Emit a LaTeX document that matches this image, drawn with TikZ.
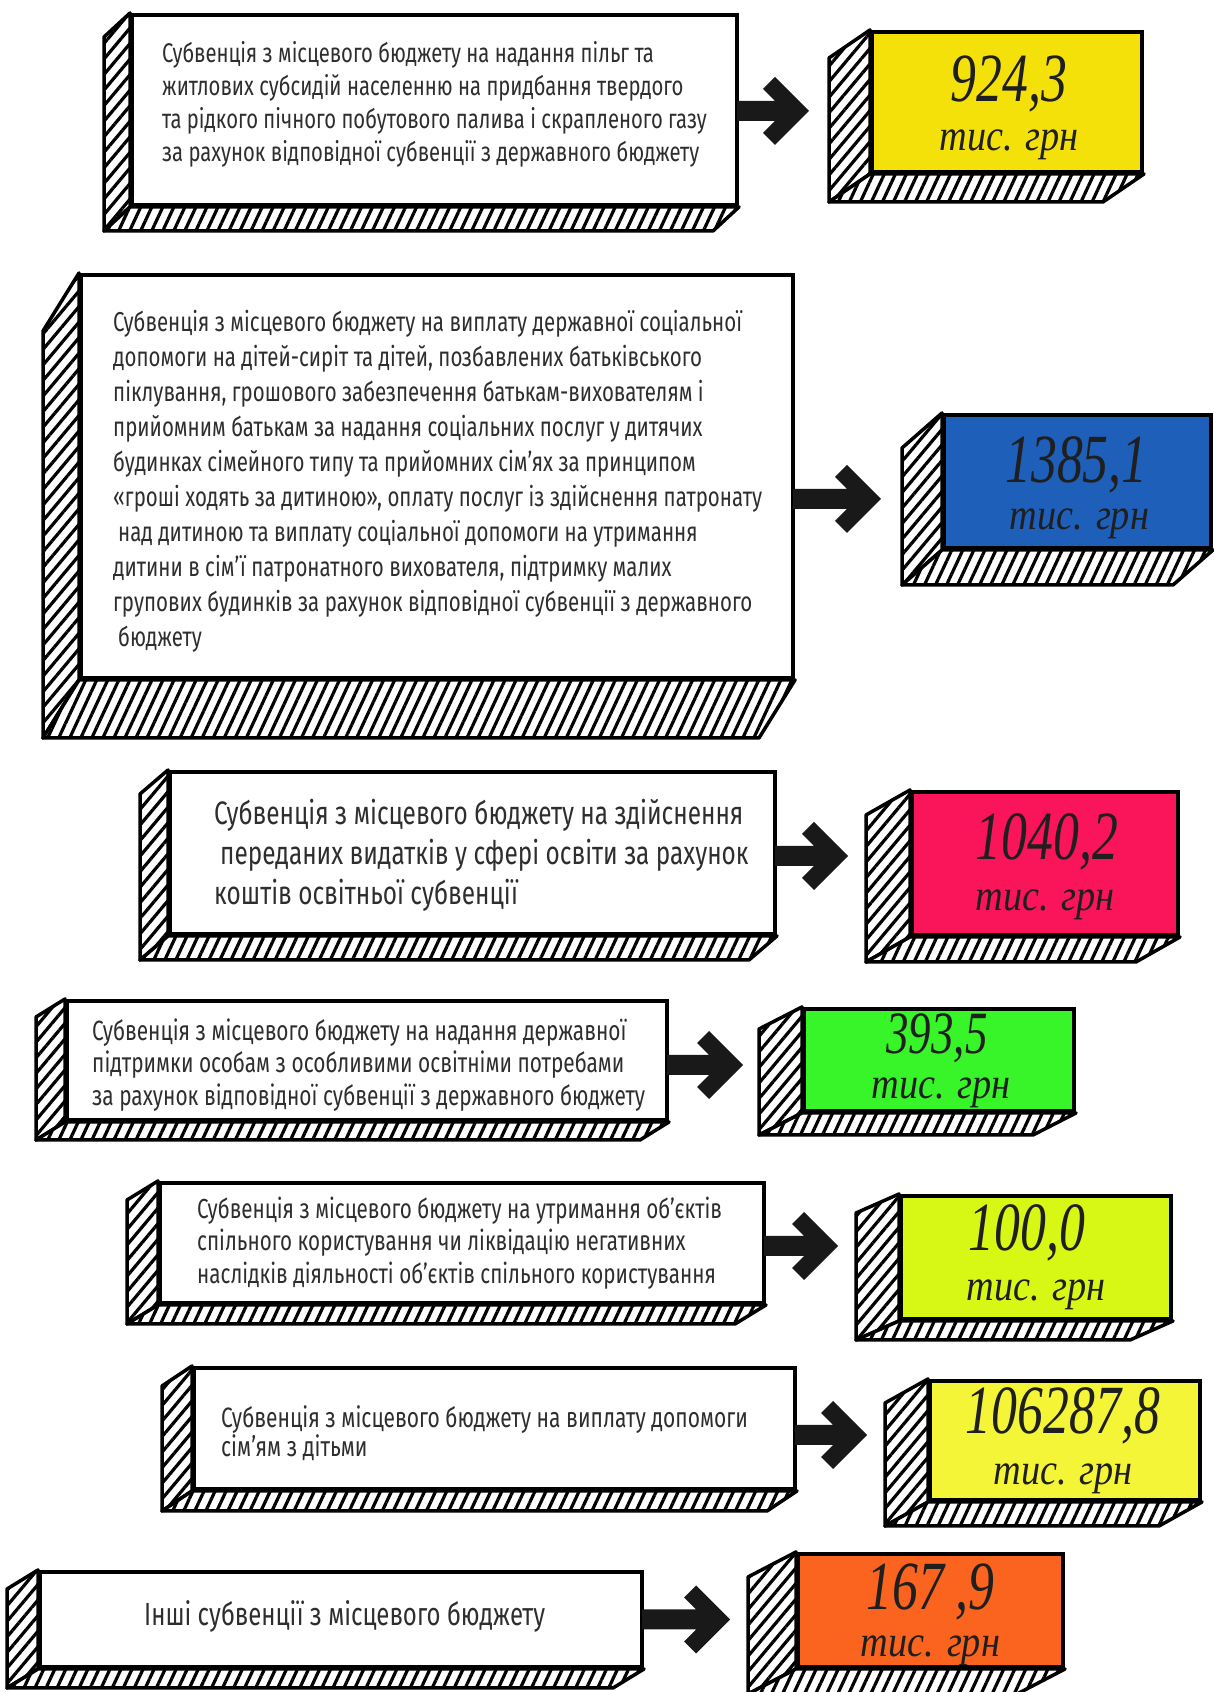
\documentclass[tikz,border=0pt]{standalone}
\usepackage{fontspec}
\setmainfont{Fira Sans}[FakeStretch=0.75]
\newfontfamily\numfam{Liberation Serif}[FakeStretch=0.75]
\newfontfamily\unitfam{Liberation Serif}[FakeStretch=0.87]
\usetikzlibrary{calc,patterns.meta}

\definecolor{valyellow}{RGB}{245,225,10}
\definecolor{valblue}{RGB}{30,95,185}
\definecolor{valpink}{RGB}{250,20,90}
\definecolor{valgreen}{RGB}{55,245,40}
\definecolor{vallime}{RGB}{215,248,20}
\definecolor{vallemon}{RGB}{245,245,55}
\definecolor{valorange}{RGB}{250,100,30}

\newcommand{\numf}{\numfam\itshape\fontsize{69}{69}\selectfont}
\newcommand{\unitf}{\unitfam\itshape\fontsize{44}{44}\selectfont}

\tikzset{
  tbox/.style={draw, line width=4pt, fill=white, inner sep=0pt},
  vbox/.style={draw, line width=4pt, inner sep=0pt},
  txt/.style={anchor=west, align=left, inner sep=0pt, text=black!82},
  numtxt/.style={inner sep=0pt, text=black!88, font=\numf},
  unittxt/.style={inner sep=0pt, text=black!88, font=\unitf},
  sidehatch/.style={draw, line width=3.5pt, line join=round, preaction={fill=white},
    pattern={Lines[angle=50,distance=10pt,line width=3.2pt]}},
  bottomhatch/.style={draw, line width=3.5pt, line join=round, preaction={fill=white},
    pattern={Lines[angle=65,distance=10pt,line width=3.2pt]}},
  arrowfill/.style={fill=black!90}
}

\newcommand{\extrude}[3]{%
  \path[sidehatch] (#1.north west) -- ++(-#2,-#3) -- ($(#1.south west)+(-#2,-#3)$) -- (#1.south west) -- cycle;
  \path[bottomhatch] (#1.south west) -- ($(#1.south west)+(-#2,-#3)$) -- ($(#1.south east)+(-#2,-#3)$) -- (#1.south east) -- cycle;
}

\newcommand{\flowarrow}[4]{%
  \fill[arrowfill] let \p1=([yshift=#4pt]#1.east), \p2=(#2.west) in
    (\x1-2pt,\y1+10pt) -- (\x2-#3pt-34pt,\y1+10pt) -- (\x2-#3pt-46pt,\y1+22pt)
    -- (\x2-#3pt-34pt,\y1+34pt) -- (\x2-#3pt,\y1) -- (\x2-#3pt-34pt,\y1-34pt)
    -- (\x2-#3pt-46pt,\y1-22pt) -- (\x2-#3pt-34pt,\y1-10pt) -- (\x1-2pt,\y1-10pt) -- cycle;
}

\begin{document}
\begin{tikzpicture}[x=1pt,y=1pt]
\useasboundingbox (0,0) rectangle (1214,1692);

\node(t1) at (434.5,1582)[tbox, minimum width=605pt, minimum height=190pt] {};
\node(v1) at (1007,1590)[vbox, fill=valyellow, minimum width=270pt, minimum height=140pt] {};
\node(t2) at (437,1215.5)[tbox, minimum width=712pt, minimum height=403pt] {};
\node(v2) at (1077.5,1210.5)[vbox, fill=valblue, minimum width=267pt, minimum height=133pt] {};
\node(t3) at (472.5,839)[tbox, minimum width=605pt, minimum height=162pt] {};
\node(v3) at (1045,828.5)[vbox, fill=valpink, minimum width=266pt, minimum height=143pt] {};
\node(t4) at (367,631.5)[tbox, minimum width=600pt, minimum height=119pt] {};
\node(v4) at (939,632)[vbox, fill=valgreen, minimum width=270pt, minimum height=102pt] {};
\node(t5) at (462,449)[tbox, minimum width=604pt, minimum height=120pt] {};
\node(v5) at (1036,434.5)[vbox, fill=vallime, minimum width=270pt, minimum height=123pt] {};
\node(t6) at (494.5,263.5)[tbox, minimum width=601pt, minimum height=121pt] {};
\node(v6) at (1065,251.5)[vbox, fill=vallemon, minimum width=270pt, minimum height=119pt] {};
\node(t7) at (341,72.5)[tbox, minimum width=602pt, minimum height=95pt] {};
\node(v7) at (930.5,81.5)[vbox, fill=valorange, minimum width=265pt, minimum height=113pt] {};

\extrude{t1}{26}{24}
\extrude{v1}{41}{28}
\extrude{t2}{36}{58}
\extrude{v2}{40}{35}
\extrude{t3}{28}{24}
\extrude{v3}{44}{25}
\extrude{t4}{29}{18}
\extrude{v4}{43}{22}
\extrude{t5}{31}{19}
\extrude{v5}{43}{19}
\extrude{t6}{30}{20}
\extrude{v6}{43}{24}
\extrude{t7}{31}{19}
\extrude{v7}{48}{25}

\node(n1) at ([xshift=2pt,yshift=18pt]v1.center)[numtxt] {924,3};
\node(u1) at ([xshift=2pt,yshift=-43pt]v1.center)[unittxt] {тис. грн};
\node(n2) at ([xshift=-1pt,yshift=17pt]v2.center)[numtxt] {1385,1};
\node(u2) at ([xshift=2pt,yshift=-42pt]v2.center)[unittxt] {тис. грн};
\node(n3) at ([xshift=2pt,yshift=22pt]v3.center)[numtxt] {1040,2};
\node(u3) at ([xshift=0pt,yshift=-41pt]v3.center)[unittxt] {тис. грн};
\node(n4) at ([xshift=-2pt,yshift=22pt]v4.center)[numtxt, font=\numfam\itshape\fontsize{60}{60}\selectfont] {393,5};
\node(u4) at ([xshift=2pt,yshift=-33pt]v4.center)[unittxt] {тис. грн};
\node(n5) at ([xshift=-9pt,yshift=25pt]v5.center)[numtxt] {100,0};
\node(u5) at ([xshift=0pt,yshift=-37pt]v5.center)[unittxt] {тис. грн};
\node(n6) at ([xshift=-2pt,yshift=25pt]v6.center)[numtxt] {106287,8};
\node(u6) at ([xshift=-2pt,yshift=-38pt]v6.center)[unittxt] {тис. грн};
\node(n7) at ([xshift=0pt,yshift=19pt]v7.center)[numtxt] {167\,,9};
\node(u7) at ([xshift=0pt,yshift=-40pt]v7.center)[unittxt] {тис. грн};

\node(l1) at ([xshift=32pt,yshift=6pt]t1.west)[txt, font=\fontsize{27}{33}\selectfont]
  {Субвенція з місцевого бюджету на надання пільг та\\
   житлових субсидій населенню на придбання твердого\\
   та рідкого пічного побутового палива і скрапленого газу\\
   за рахунок відповідної субвенції з державного бюджету};
\node(l2) at ([xshift=34pt,yshift=-4.5pt]t2.west)[txt, font=\fontsize{27.3}{35}\selectfont]
  {Субвенція з місцевого бюджету на виплату державної соціальної\\
   допомоги на дітей-сиріт та дітей, позбавлених батьківського\\
   піклування, грошового забезпечення батькам-вихователям і\\
   прийомним батькам за надання соціальних послуг у дитячих\\
   будинках сімейного типу та прийомних сім’ях за принципом\\
   «гроші ходять за дитиною», оплату послуг із здійснення патронату\\
   \hspace*{5pt}над дитиною та виплату соціальної допомоги на утримання\\
   дитини в сім’ї патронатного вихователя, підтримку малих\\
   групових будинків за рахунок відповідної субвенції з державного\\
   \hspace*{5pt}бюджету};
\node(l3) at ([xshift=46pt,yshift=-2pt]t3.west)[txt, font=\fontsize{32.5}{40}\selectfont]
  {Субвенція з місцевого бюджету на здійснення\\
   \hspace*{6pt}переданих видатків у сфері освіти за рахунок\\
   коштів освітньої субвенції};
\node(l4) at ([xshift=27pt,yshift=-4.5pt]t4.west)[txt, font=\fontsize{27.8}{32.5}\selectfont]
  {Субвенція з місцевого бюджету на надання державної\\
   підтримки особам з особливими освітніми потребами\\
   за рахунок відповідної субвенції з державного бюджету};
\node(l5) at ([xshift=39pt,yshift=0pt]t5.west)[txt, font=\fontsize{27.5}{32.5}\selectfont]
  {Субвенція з місцевого бюджету на утримання об’єктів\\
   спільного користування чи ліквідацію негативних\\
   наслідків діяльності об’єктів спільного користування};
\node(l6) at ([xshift=29pt,yshift=-4.5pt]t6.west)[txt, font=\fontsize{28}{29}\selectfont]
  {Субвенція з місцевого бюджету на виплату допомоги\\
   сім’ям з дітьми};
\node(l7) at ([xshift=106pt,yshift=3pt]t7.west)[txt, font=\fontsize{32}{38}\selectfont]
  {Інші субвенції з місцевого бюджету};

\flowarrow{t1}{v1}{61}{-1}
\flowarrow{t2}{v2}{61}{-22.5}
\flowarrow{t3}{v3}{62}{-3}
\flowarrow{t4}{v4}{59}{-4.5}
\flowarrow{t5}{v5}{61}{-3}
\flowarrow{t6}{v6}{61}{-6.5}
\flowarrow{t7}{v7}{66}{0}

\end{tikzpicture}
\end{document}
